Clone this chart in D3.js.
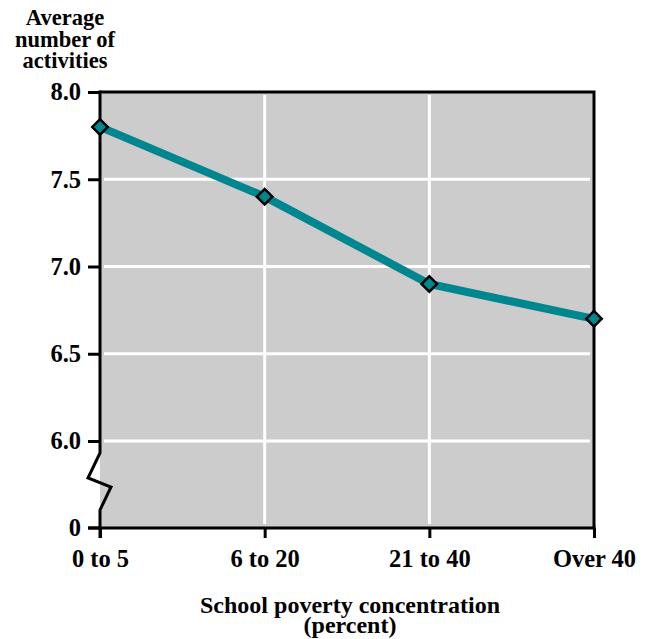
<!DOCTYPE html>
<html>
<head>
<meta charset="utf-8">
<script src="https://cdn.jsdelivr.net/npm/d3@7"></script>
<style>
  html, body { margin: 0; padding: 0; background: #fff; }
  svg text { font-family: "Liberation Serif", "DejaVu Serif", serif; font-weight: bold; fill: #000; }
</style>
</head>
<body>
<svg id="chart" width="648" height="639"></svg>
<script>
// Average number of activities by school poverty concentration
const categories = ["0 to 5", "6 to 20", "21 to 40", "Over 40"];
const activities = [7.8, 7.4, 6.9, 6.7];
const yTicks = [8.0, 7.5, 7.0, 6.5, 6.0];
const yTickLabels = ["8.0", "7.5", "7.0", "6.5", "6.0"];
const baseLabel = "0";
const yTitle = ["Average", "number of", "activities"];
const xTitle = ["School poverty concentration", "(percent)"];

const svg = d3.select("#chart");
const plotLeft = 100, plotRight = 594, plotTop = 92, plotBottom = 528;
const breakGap = 87; // distance between the 6.0 line and the zero baseline
const labelSize = 24.5;

const x = d3.scalePoint().domain(categories).range([plotLeft, plotRight]);
const y = d3.scaleLinear().domain([6, 8]).range([plotBottom - breakGap, plotTop]);

// plot background
svg.append("rect")
  .attr("x", plotLeft).attr("y", plotTop)
  .attr("width", plotRight - plotLeft).attr("height", plotBottom - plotTop)
  .attr("fill", "#cccccc");

// white grid
const grid = svg.append("g").attr("stroke", "#fff").attr("stroke-width", 3);
grid.selectAll("line.h").data(yTicks.slice(1)).join("line")
  .attr("class", "h")
  .attr("x1", plotLeft + 4).attr("x2", plotRight - 4)
  .attr("y1", d => y(d)).attr("y2", d => y(d));
grid.selectAll("line.v").data(categories.slice(1, -1)).join("line")
  .attr("class", "v")
  .attr("x1", d => x(d)).attr("x2", d => x(d))
  .attr("y1", plotTop + 3).attr("y2", plotBottom - 4);

// frame: top and right edges
const frame = svg.append("g").attr("stroke", "#000").attr("stroke-width", 3).attr("fill", "none");
frame.append("path")
  .attr("d", `M${plotLeft},${plotTop}H${plotRight}V${plotBottom}`);

// left axis with break symbol
const yb = y(6);
frame.append("path")
  .attr("stroke-linejoin", "miter")
  .attr("d", `M${plotLeft},${plotTop - 1.5}V${yb + 12}L${plotLeft - 12},${yb + 37}L${plotLeft + 11},${yb + 46}L${plotLeft},${yb + 69}V${plotBottom + 10}`);

// bottom axis
const xAxis = d3.axisBottom(x).tickSize(10).tickPadding(12);
const gx = svg.append("g").attr("transform", `translate(0,${plotBottom})`).call(xAxis);
gx.select(".domain").attr("stroke-width", 3).attr("d", `M${plotLeft - 12},0H${plotRight + 1.5}`);
gx.selectAll(".tick line").attr("stroke-width", 3);
gx.selectAll(".tick text").attr("font-size", labelSize).attr("font-family", null).attr("dy", "0.71em");

// left axis ticks and labels
const yAxis = d3.axisLeft(y).tickValues(yTicks).tickFormat((d, i) => yTickLabels[i]).tickSize(12).tickPadding(7);
const gy = svg.append("g").attr("transform", `translate(${plotLeft},0)`).call(yAxis);
gy.select(".domain").remove();
gy.selectAll(".tick line").attr("stroke-width", 3);
gy.selectAll(".tick text").attr("font-size", labelSize).attr("font-family", null);
svg.append("text")
  .attr("x", plotLeft - 19).attr("y", plotBottom).attr("dy", "0.34em")
  .attr("text-anchor", "end").attr("font-size", labelSize)
  .text(baseLabel);
svg.append("line")
  .attr("x1", plotLeft - 12).attr("x2", plotLeft).attr("y1", plotBottom).attr("y2", plotBottom)
  .attr("stroke", "#000").attr("stroke-width", 3);

// data line
const line = d3.line().x((d, i) => x(categories[i])).y(d => y(d));
svg.append("path")
  .datum(activities)
  .attr("d", line)
  .attr("fill", "none")
  .attr("stroke", "#00868f")
  .attr("stroke-width", 8);

// diamond markers
const diamond = d3.symbol().type(d3.symbolSquare).size(120);
svg.selectAll("path.marker").data(activities).join("path")
  .attr("class", "marker")
  .attr("d", diamond)
  .attr("transform", (d, i) => `translate(${x(categories[i])},${y(d)}) rotate(45)`)
  .attr("fill", "#00868f")
  .attr("stroke", "#000")
  .attr("stroke-width", 2.5);

// titles
svg.append("text")
  .attr("text-anchor", "middle").attr("font-size", 22.5)
  .selectAll("tspan").data(yTitle).join("tspan")
  .attr("x", 65).attr("y", (d, i) => 25 + i * 21.5)
  .text(d => d);

svg.append("text")
  .attr("text-anchor", "middle").attr("font-size", 24)
  .selectAll("tspan").data(xTitle).join("tspan")
  .attr("x", 350).attr("y", (d, i) => 613 + i * 20)
  .text(d => d);
</script>
</body>
</html>
